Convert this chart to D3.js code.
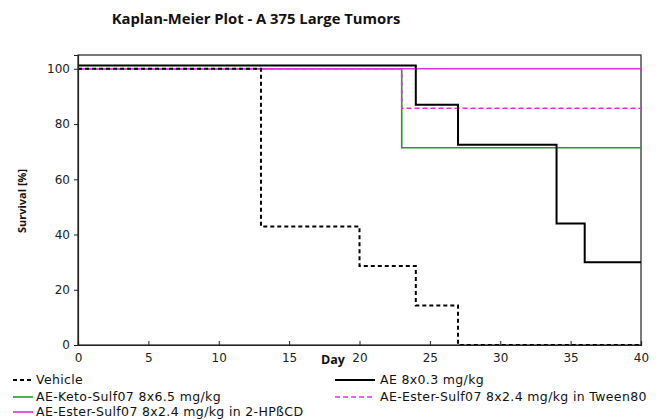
<!doctype html>
<html lang="en">
<head>
  <meta charset="utf-8">
  <title>Kaplan-Meier Plot</title>
  <style>
    body { margin: 0; background: #fff; }
    svg { font-family: "Open Sans", sans-serif; }
    .tick text { fill: #222; font-size: 12px; font-family: "DejaVu Sans", sans-serif; }
  </style>
</head>
<body>
  <div id="chart"></div>
  <script src="https://cdn.jsdelivr.net/npm/d3@7"></script>
  <script>
  // values (survival in %, day of each step)
  var vehicleDays = [0, 13, 20, 24, 27, 40];
  var vehicleSurv = [100, 42.9, 28.6, 14.3, 0, 0];
  var aeDays = [0, 24, 27, 34, 36, 40];
  var aeSurv = [101.2, 87, 72.5, 44, 30, 30];
  var ketoDays = [0, 23, 40];
  var ketoSurv = [100, 71.4, 71.4];
  var tweenDays = [0, 23, 40];
  var tweenSurv = [100, 85.7, 85.7];
  var hpDays = [0, 40];
  var hpSurv = [100, 100];
  var xTicks = [0, 5, 10, 15, 20, 25, 30, 35, 40];
  var yTicks = [0, 20, 40, 60, 80, 100];

  var width = 659, height = 419;
  var margin = {left: 78, right: 18, top: 55, bottom: 74};

  var svg = d3.select("#chart").append("svg")
      .attr("width", width).attr("height", height);

  var x = d3.scaleLinear().domain([0, 40]).range([margin.left, width - margin.right]);
  var y = d3.scaleLinear().domain([0, 105]).range([height - margin.bottom, margin.top]);

  function zip(days, surv) {
    return days.map(function(d, i) { return [d, surv[i]]; });
  }

  var series = [
    {name: "AE-Keto-Sulf07 8x6.5 mg/kg", pts: zip(ketoDays, ketoSurv), color: "#1ea01e", w: 1.6, dash: null},
    {name: "AE-Ester-Sulf07 8x2.4 mg/kg in Tween80", pts: zip(tweenDays, tweenSurv), color: "#e030e0", w: 1.6, dash: "5,3"},
    {name: "AE-Ester-Sulf07 8x2.4 mg/kg in 2-HPßCD", pts: zip(hpDays, hpSurv), color: "#e030e0", w: 1.6, dash: null},
    {name: "Vehicle", pts: zip(vehicleDays, vehicleSurv), color: "#000", w: 2, dash: "4,3"},
    {name: "AE 8x0.3 mg/kg", pts: zip(aeDays, aeSurv), color: "#000", w: 2, dash: null}
  ];

  // title
  svg.append("text")
    .attr("x", 256).attr("y", 24)
    .attr("text-anchor", "middle")
    .style("font-weight", "bold").style("font-size", "14.8px").style("fill", "#111")
    .text("Kaplan-Meier Plot - A 375 Large Tumors");

  // plot frame
  svg.append("rect")
    .attr("x", x(0)).attr("y", y(105))
    .attr("width", x(40) - x(0)).attr("height", y(0) - y(105))
    .attr("fill", "none").attr("stroke", "#222").attr("stroke-width", 1.2);

  var line = d3.line()
    .x(function(d) { return x(d[0]); })
    .y(function(d) { return y(d[1]); })
    .curve(d3.curveStepAfter);

  svg.append("g").selectAll("path").data(series).enter()
    .append("path")
    .attr("d", function(d) { return line(d.pts); })
    .attr("fill", "none")
    .attr("stroke", function(d) { return d.color; })
    .attr("stroke-width", function(d) { return d.w; })
    .attr("stroke-dasharray", function(d) { return d.dash; });

  // axes
  var yAxis = svg.append("g")
    .attr("transform", "translate(" + x(0) + ",0)")
    .call(d3.axisLeft(y).tickValues(yTicks).tickSize(4).tickPadding(4));
  var xAxis = svg.append("g")
    .attr("transform", "translate(0," + y(0) + ")")
    .call(d3.axisBottom(x).tickValues(xTicks).tickSize(-4).tickPadding(8));
  [xAxis, yAxis].forEach(function(a) {
    a.select(".domain").attr("stroke", "#222").attr("stroke-width", 1.2);
    a.selectAll(".tick line").attr("stroke", "#222");
  });

  // axis titles
  svg.append("text")
    .attr("x", 333).attr("y", 364)
    .attr("text-anchor", "middle")
    .style("font-weight", "bold").style("font-size", "12.5px").style("fill", "#111")
    .text("Day");
  svg.append("text")
    .attr("transform", "translate(26,201) rotate(-90)")
    .attr("text-anchor", "middle")
    .style("font-weight", "bold").style("font-size", "11px").style("fill", "#111")
    .text("Survival [%]");

  // legend
  var legendItems = [
    {s: series[3], lx: 13, ly: 380},
    {s: series[4], lx: 335, ly: 380},
    {s: series[0], lx: 13, ly: 397},
    {s: series[1], lx: 335, ly: 397},
    {s: series[2], lx: 13, ly: 412}
  ];
  var lg = svg.append("g").selectAll("g").data(legendItems).enter().append("g")
    .attr("transform", function(d) { return "translate(" + d.lx + "," + d.ly + ")"; });
  lg.append("line")
    .attr("x1", 0).attr("x2", function(d) { return d.lx > 100 ? 40 : 20; })
    .attr("stroke", function(d) { return d.s.color; })
    .attr("stroke-width", function(d) { return d.s.w; })
    .attr("stroke-dasharray", function(d) { return d.s.dash; });
  lg.append("text")
    .attr("x", function(d) { return d.lx > 100 ? 45 : 23; })
    .attr("dy", "0.35em")
    .style("font-size", "12.5px").style("letter-spacing", "0.35px")
    .style("font-family", "'DejaVu Sans', sans-serif").style("fill", "#111")
    .text(function(d) { return d.s.name; });
  </script>
</body>
</html>
